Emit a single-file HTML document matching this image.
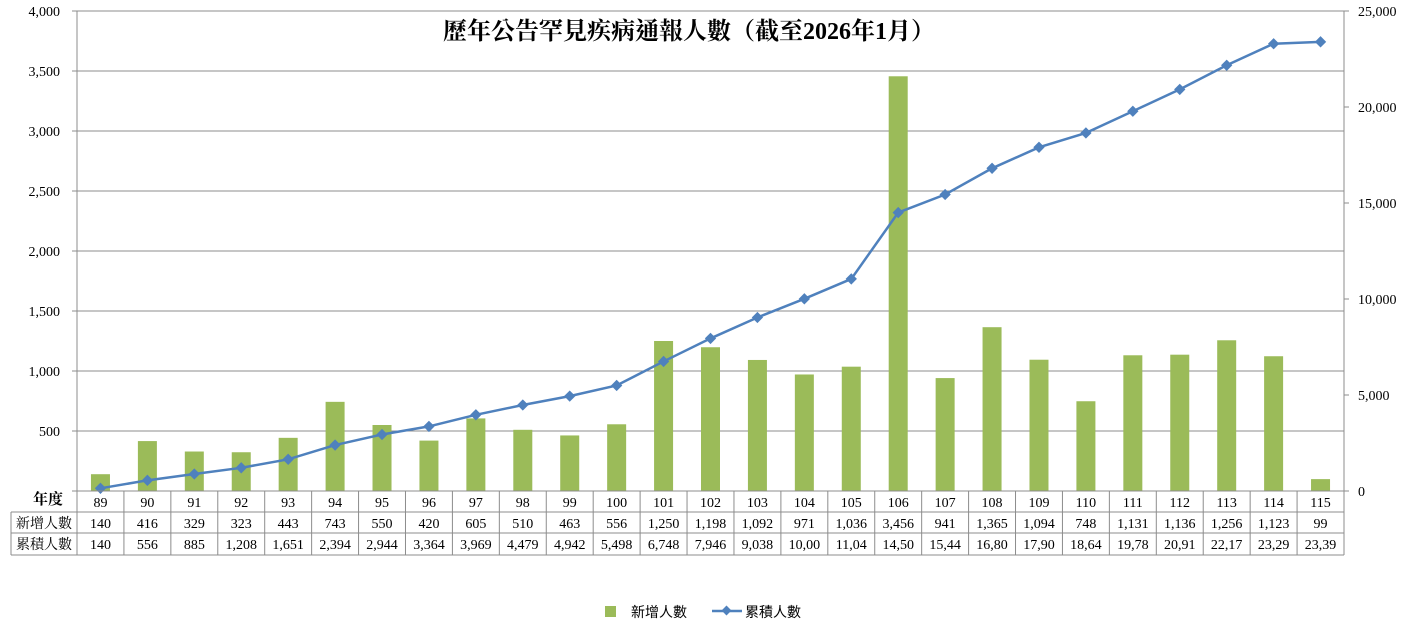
<!DOCTYPE html>
<html><head><meta charset="utf-8">
<style>
html,body{margin:0;padding:0;background:#fff;}
svg{display:block;font-family:"Liberation Serif","Noto Serif CJK TC","Noto Serif CJK SC",serif;}
</style></head><body>
<svg id="s" width="1407" height="625" viewBox="0 0 1407 625" xmlns="http://www.w3.org/2000/svg"></svg>
<script>
const s=document.getElementById('s');
const yrs=[];for(let i=89;i<=115;i++)yrs.push(i);
const nw=[140,416,329,323,443,743,550,420,605,510,463,556,1250,1198,1092,971,1036,3456,941,1365,1094,748,1131,1136,1256,1123,99];
const cum=[];let c=0;nw.forEach(v=>{c+=v;cum.push(c);});
const cumT=["140","556","885","1,208","1,651","2,394","2,944","3,364","3,969","4,479","4,942","5,498","6,748","7,946","9,038","10,00","11,04","14,50","15,44","16,80","17,90","18,64","19,78","20,91","22,17","23,29","23,39"];
const L=77,R=1344,T=11,B=491,n=27,w=(R-L)/n;
let h='';
const fmt=v=>v.toLocaleString('en-US');
for(let v=0;v<=4000;v+=500){const y=B-(v/4000)*(B-T);
 if(v>0)h+=`<line x1="${L}" x2="${R}" y1="${y}" y2="${y}" stroke="#8c8c8c" stroke-width="1"/>`;
 if(v>0)h+=`<text x="${L-17}" y="${y+5}" font-size="14" text-anchor="end">${fmt(v)}</text>`;
 h+=`<line x1="${L-5}" x2="${L}" y1="${y}" y2="${y}" stroke="#8c8c8c"/>`;}
for(let v=0;v<=25000;v+=5000){const y=B-(v/25000)*(B-T);
 h+=`<line x1="${R}" x2="${R+5}" y1="${y}" y2="${y}" stroke="#8c8c8c"/>`;
 h+=`<text x="${R+14}" y="${y+5}" font-size="14">${fmt(v)}</text>`;}
h+=`<line x1="${L}" x2="${L}" y1="${T}" y2="${B}" stroke="#8c8c8c"/>`;
h+=`<line x1="${R}" x2="${R}" y1="${T}" y2="${B}" stroke="#8c8c8c"/>`;
nw.forEach((v,i)=>{const cx=L+w*(i+0.5);const y=B-(v/4000)*(B-T);
 h+=`<rect x="${cx-9.5}" y="${y}" width="19" height="${B-y}" fill="#9bbb59"/>`;});
let pts=cum.map((v,i)=>[L+w*(i+0.5),B-(v/25000)*(B-T)]);
h+=`<polyline points="${pts.map(p=>p.join(',')).join(' ')}" fill="none" stroke="#4f81bd" stroke-width="2.5"/>`;
pts.forEach(p=>{h+=`<rect x="${p[0]-4}" y="${p[1]-4}" width="8" height="8" fill="#4f81bd" transform="rotate(45 ${p[0]} ${p[1]})"/>`;});
const r1=491,r2=512,r3=533,r4=555;
h+=`<line x1="${L}" x2="${R}" y1="${B}" y2="${B}" stroke="#8c8c8c"/>`;
[r2,r3,r4].forEach(y=>h+=`<line x1="11" x2="${R}" y1="${y}" y2="${y}" stroke="#8c8c8c"/>`);
h+=`<line x1="11" x2="11" y1="${r2}" y2="${r4}" stroke="#8c8c8c"/>`;
for(let i=0;i<=n;i++){const x=L+w*i;h+=`<line x1="${x}" x2="${x}" y1="${r1}" y2="${r4}" stroke="#8c8c8c"/>`;}
h+=`<text x="48" y="504" font-size="15" font-weight="bold" text-anchor="middle">年度</text>`;
h+=`<text x="44" y="528" font-size="14" text-anchor="middle">新增人數</text>`;
h+=`<text x="44" y="549" font-size="14" text-anchor="middle">累積人數</text>`;
yrs.forEach((y,i)=>{const cx=L+w*(i+0.5);
 h+=`<text x="${cx}" y="507" font-size="14" text-anchor="middle">${y}</text>`;
 h+=`<text x="${cx}" y="528" font-size="14" text-anchor="middle">${fmt(nw[i])}</text>`;
 h+=`<text x="${cx}" y="549" font-size="14" text-anchor="middle">${cumT[i]}</text>`;});
h+=`<text x="689" y="39" font-size="24" font-weight="bold" text-anchor="middle">歷年公告罕見疾病通報人數（截至2026年1月）</text>`;
h+=`<rect x="605" y="606" width="11" height="11" fill="#9bbb59"/><text x="631" y="617" font-size="14" font-family="Liberation Sans,Noto Sans CJK TC,sans-serif">新增人數</text>`;
h+=`<line x1="712" x2="742" y1="611" y2="611" stroke="#4f81bd" stroke-width="2.5"/><rect x="723" y="607" width="7" height="7" fill="#4f81bd" transform="rotate(45 726.5 610.5)"/><text x="745" y="617" font-size="14" font-family="Liberation Sans,Noto Sans CJK TC,sans-serif">累積人數</text>`;
s.innerHTML=h;
</script>
</body></html>
